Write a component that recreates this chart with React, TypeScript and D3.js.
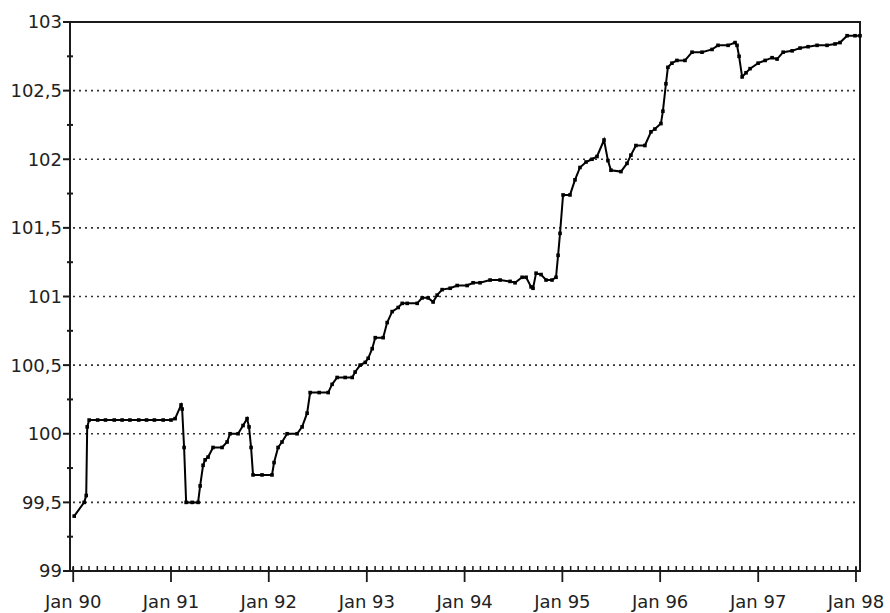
import React from 'react';
import * as d3 from 'd3';

// Observation times as decimal years, and the index level at each one
const times: number[] = [
  1990.010, 1990.112, 1990.133, 1990.143, 1990.163,
  1990.25, 1990.33, 1990.42, 1990.50, 1990.58, 1990.67, 1990.75, 1990.83, 1990.92, 1991.0,
  1991.042, 1991.103, 1991.114, 1991.134, 1991.155, 1991.216, 1991.277,
  1991.298, 1991.328, 1991.349, 1991.379, 1991.430, 1991.522, 1991.574, 1991.604,
  1991.686, 1991.737, 1991.778, 1991.798, 1991.819, 1991.839, 1991.931,
  1992.033, 1992.054, 1992.095, 1992.135, 1992.187, 1992.289, 1992.340, 1992.391,
  1992.422, 1992.514, 1992.606, 1992.646, 1992.697, 1992.779, 1992.851, 1992.881,
  1992.932, 1992.984, 1993.014, 1993.055, 1993.086, 1993.167, 1993.208, 1993.259,
  1993.321, 1993.362, 1993.413, 1993.515, 1993.566, 1993.627, 1993.678, 1993.719,
  1993.770, 1993.852, 1993.924, 1994.026, 1994.087, 1994.158, 1994.261, 1994.363,
  1994.465, 1994.516, 1994.588, 1994.629, 1994.680, 1994.700, 1994.731, 1994.782,
  1994.833, 1994.894, 1994.935, 1994.956, 1994.976, 1995.007, 1995.078, 1995.129,
  1995.180, 1995.242, 1995.303, 1995.354, 1995.426, 1995.466, 1995.497, 1995.599,
  1995.661, 1995.701, 1995.752, 1995.844, 1995.906, 1995.946, 1996.008, 1996.028,
  1996.059, 1996.079, 1996.120, 1996.171, 1996.253, 1996.325, 1996.427, 1996.529,
  1996.590, 1996.693, 1996.764, 1996.784, 1996.805, 1996.836, 1996.876, 1996.917,
  1996.999, 1997.071, 1997.142, 1997.193, 1997.255, 1997.347, 1997.428, 1997.510,
  1997.602, 1997.704, 1997.786, 1997.837, 1997.909, 1997.990, 1998.041,
];

const levels: number[] = [
  99.40, 99.50, 99.55, 100.05, 100.10,
  100.10, 100.10, 100.10, 100.10, 100.10, 100.10, 100.10, 100.10, 100.10, 100.10,
  100.11, 100.21, 100.18, 99.90, 99.50, 99.50, 99.50,
  99.62, 99.77, 99.81, 99.83, 99.90, 99.90, 99.94, 100.00,
  100.00, 100.06, 100.11, 100.05, 99.90, 99.70, 99.70,
  99.70, 99.79, 99.90, 99.94, 100.00, 100.00, 100.05, 100.15,
  100.30, 100.30, 100.30, 100.36, 100.41, 100.41, 100.41, 100.45,
  100.50, 100.52, 100.55, 100.62, 100.70, 100.70, 100.81, 100.89,
  100.92, 100.95, 100.95, 100.95, 100.99, 100.99, 100.96, 101.01,
  101.05, 101.06, 101.08, 101.08, 101.10, 101.10, 101.12, 101.12,
  101.11, 101.10, 101.14, 101.14, 101.07, 101.06, 101.17, 101.16,
  101.12, 101.12, 101.14, 101.30, 101.46, 101.74, 101.74, 101.85,
  101.94, 101.98, 102.00, 102.02, 102.14, 101.99, 101.92, 101.91,
  101.97, 102.03, 102.10, 102.10, 102.20, 102.22, 102.26, 102.35,
  102.55, 102.67, 102.70, 102.72, 102.72, 102.78, 102.78, 102.80,
  102.83, 102.83, 102.85, 102.83, 102.75, 102.60, 102.63, 102.66,
  102.70, 102.72, 102.74, 102.73, 102.78, 102.79, 102.81, 102.82,
  102.83, 102.83, 102.84, 102.85, 102.90, 102.90, 102.90,
];

const yTickValues: number[] = [99, 99.5, 100, 100.5, 101, 101.5, 102, 102.5, 103];
const yTickLabels: string[] = ['99', '99,5', '100', '100,5', '101', '101,5', '102', '102,5', '103'];
const yearLabels: string[] = ['Jan 90', 'Jan 91', 'Jan 92', 'Jan 93', 'Jan 94', 'Jan 95', 'Jan 96', 'Jan 97', 'Jan 98'];

const W = 890;
const H = 613;
const left = 70;
const right = 860;
const top = 22;
const bottom = 571;
const FONT = '"DejaVu Sans", sans-serif';
const INK = '#1a1a1a';

function toDate(t: number): Date {
  const y = Math.floor(t);
  const a = new Date(y, 0, 1).getTime();
  const b = new Date(y + 1, 0, 1).getTime();
  return new Date(a + (t - y) * (b - a));
}

export default function App() {
  const x = d3
    .scaleTime()
    .domain([new Date(1989, 11, 20), new Date(1998, 0, 16)])
    .range([left, right]);
  const y = d3.scaleLinear().domain([99, 103]).range([bottom, top]);

  const points = times.map((t, i) => ({ d: toDate(t), v: levels[i] }));
  const line = d3
    .line<{ d: Date; v: number }>()
    .x((p) => x(p.d))
    .y((p) => y(p.v));

  const months = d3.timeMonth.range(new Date(1990, 0, 1), new Date(1998, 0, 2));
  const janTicks = months.filter((m) => m.getMonth() === 0);
  const minorY = d3.range(99.25, 103, 0.5);

  return (
    <svg
      width={W}
      height={H}
      style={{ position: 'absolute', left: 0, top: 0, background: '#fff' }}
      fontFamily={FONT}
    >
      {/* dotted horizontal gridlines */}
      {yTickValues
        .filter((v) => v > 99 && v < 103)
        .map((v) => (
          <line
            key={'g' + v}
            x1={left + 3}
            x2={right - 2}
            y1={y(v)}
            y2={y(v)}
            stroke="#333"
            strokeWidth={1.6}
            strokeDasharray="2 4"
          />
        ))}

      {/* frame */}
      <line x1={left} x2={right + 1} y1={top} y2={top} stroke={INK} strokeWidth={2} />
      <line x1={right} x2={right} y1={top} y2={bottom} stroke={INK} strokeWidth={2} />
      <line x1={left} x2={left} y1={top} y2={bottom + 1} stroke={INK} strokeWidth={2} />
      <line x1={left - 1} x2={right + 1} y1={bottom} y2={bottom} stroke={INK} strokeWidth={2} />

      {/* y axis ticks and labels */}
      {yTickValues.map((v, i) => (
        <g key={'y' + v}>
          <line x1={left - 7} x2={left} y1={y(v)} y2={y(v)} stroke={INK} strokeWidth={2} />
          <text
            x={left - 8}
            y={y(v)}
            dy="0.36em"
            textAnchor="end"
            fontSize={18}
            fill="#222"
          >
            {yTickLabels[i]}
          </text>
        </g>
      ))}
      {minorY.map((v) => (
        <line key={'my' + v} x1={left - 3} x2={left + 3} y1={y(v)} y2={y(v)} stroke={INK} strokeWidth={2} />
      ))}

      {/* x axis: monthly minor ticks, January major ticks */}
      {months.map((m) => (
        <line
          key={'mx' + m.getTime()}
          x1={x(m)}
          x2={x(m)}
          y1={bottom - 5}
          y2={bottom}
          stroke={INK}
          strokeWidth={1.5}
        />
      ))}
      {janTicks.map((m, i) => (
        <g key={'jx' + m.getTime()}>
          <line x1={x(m)} x2={x(m)} y1={bottom - 4} y2={bottom + 11} stroke={INK} strokeWidth={1.8} />
          <text x={x(m)} y={608} textAnchor="middle" fontSize={18} fill="#222">
            {yearLabels[i]}
          </text>
        </g>
      ))}

      {/* series */}
      <path d={line(points) ?? ''} fill="none" stroke="#000" strokeWidth={2} strokeLinejoin="miter" />
      {points.map((p, i) => (
        <rect
          key={'p' + i}
          x={x(p.d) - 1.8}
          y={y(p.v) - 1.8}
          width={3.6}
          height={3.6}
          fill="#000"
        />
      ))}
    </svg>
  );
}
